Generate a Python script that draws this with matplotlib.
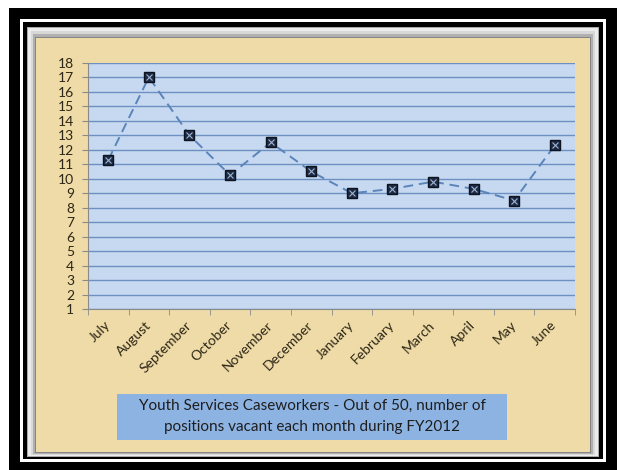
import matplotlib
matplotlib.use("Agg")
import matplotlib.pyplot as plt
from matplotlib.patches import Rectangle
import numpy as np

months = ["July", "August", "September", "October", "November", "December",
          "January", "February", "March", "April", "May", "June"]
vacant = [11.3, 17.0, 13.0, 10.25, 12.5, 10.5, 9.0, 9.3, 9.8, 9.3, 8.5, 12.3]
y_ticks = list(range(1, 19))
title_lines = ["Youth Services Caseworkers - Out of 50, number of",
               "positions vacant each month during FY2012"]

plt.rcParams['font.family'] = ['Lato', 'DejaVu Sans']

W, H = 619, 470
fig = plt.figure(figsize=(W / 100, H / 100), dpi=100)
fig.patch.set_facecolor("white")

# background / frame axes in pixel coordinates
bg = fig.add_axes([0, 0, 1, 1])
bg.set_xlim(0, W)
bg.set_ylim(H, 0)
bg.axis("off")

def rect(x0, y0, x1, y1, color, z=0):
    bg.add_patch(Rectangle((x0, y0), x1 - x0, y1 - y0, facecolor=color,
                           edgecolor="none", zorder=z))

rect(9, 8, 617, 470, "black", 1)
rect(20, 19, 606, 462, "white", 2)
rect(23, 22, 603, 459, "black", 3)
rect(27, 27, 599, 457, "#a8a8a8", 4)
rect(28, 28, 598, 456, "#ececec", 5)
rect(31, 31, 595, 455, "#d8d8d8", 6)
rect(33, 34, 593, 454, "#b0b0b0", 7)
rect(35, 37, 591, 453, "#858585", 8)
rect(36, 38, 590, 452, "#eedba7", 9)

# title box
rect(117, 394, 507, 440, "#8db3e2", 10)
bg.text(312, 405.5, title_lines[0], ha="center", va="center", fontsize=11,
        color="#1e1e1e", zorder=11)
bg.text(312, 426.5, title_lines[1], ha="center", va="center", fontsize=11,
        color="#1e1e1e", zorder=11)

# chart axes
left, right, top, bottom = 88, 575, 62.7, 309.3
ax = fig.add_axes([left / W, (H - bottom) / H, (right - left) / W, (bottom - top) / H])
ax.set_facecolor("#c6d9f1")
x = np.arange(len(months))
ax.set_xlim(-0.5, len(months) - 0.5)
ax.set_ylim(1, 18)
ax.set_yticks(y_ticks)
ax.set_yticklabels([str(v) for v in y_ticks], fontsize=10, color="#2e2616")
ax.yaxis.grid(True, color="#6d90c2", lw=1.0)
ax.set_axisbelow(True)
ax.tick_params(axis="y", length=4, color="#8a8a8a", pad=6)

ax.set_xticks(x)
ax.set_xticklabels(months, rotation=45, ha="right", va="center",
                   rotation_mode="anchor", fontsize=10, color="#2e2616")
ax.tick_params(axis="x", length=0, pad=10)
ax.set_xticks(np.arange(-0.5, len(months)), minor=True)
ax.tick_params(axis="x", which="minor", length=4, color="#8a8a8a")

for s in ["top", "right"]:
    ax.spines[s].set_visible(False)
ax.spines["left"].set_color("#8a8a8a")
ax.spines["bottom"].set_color("#8a8a8a")

ax.plot(x, vacant, linestyle=(0, (5, 3)), color="#5b84ba", lw=1.4, zorder=3)
ax.plot(x, vacant, linestyle="none", marker="s", markersize=7,
        markerfacecolor="#1c2a44", markeredgecolor="#0d1420", zorder=4)
ax.plot(x, vacant, linestyle="none", marker="x", markersize=5,
        markeredgecolor="#9fb3d0", markeredgewidth=0.8, zorder=5)

fig.savefig("out.png", dpi=100)
